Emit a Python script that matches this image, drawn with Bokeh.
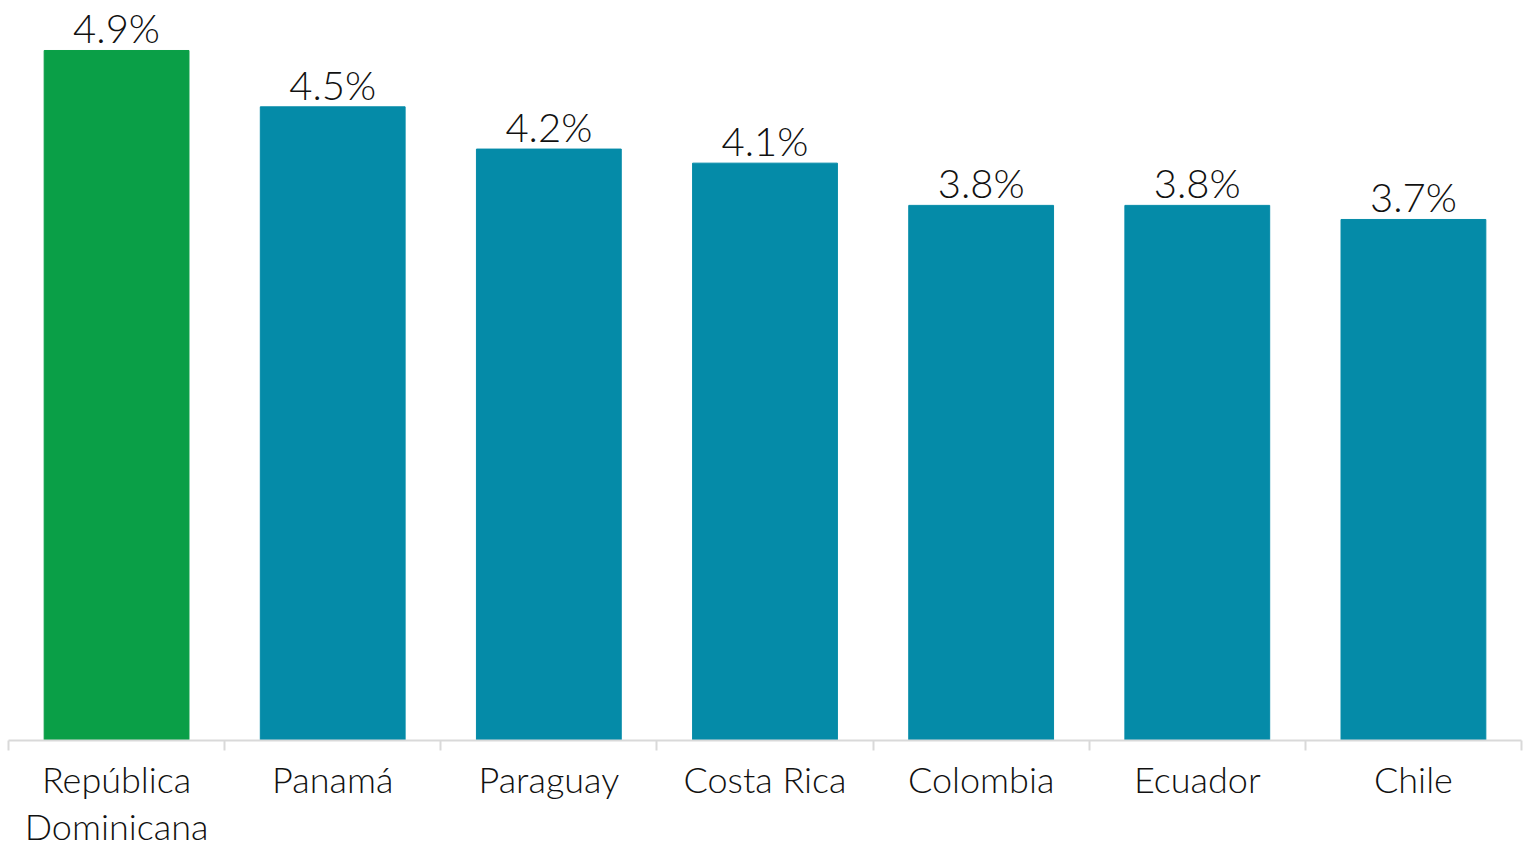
from bokeh.plotting import figure
from bokeh.models import ColumnDataSource, Range1d, FixedTicker
from bokeh.core.properties import value
from bokeh.embed import file_html
from bokeh.resources import INLINE

countries = ["República\nDominicana", "Panamá", "Paraguay", "Costa Rica", "Colombia", "Ecuador", "Chile"]
rates = [4.9, 4.5, 4.2, 4.1, 3.8, 3.8, 3.7]
labels = ["4.9%", "4.5%", "4.2%", "4.1%", "3.8%", "3.8%", "3.7%"]
colors = ["#0a9f47", "#058ba8", "#058ba8", "#058ba8", "#058ba8", "#058ba8", "#058ba8"]

xs = [i + 0.5 for i in range(len(countries))]
src = ColumnDataSource(dict(x=xs, top=rates, lab=labels, color=colors))

FONT = "Lato Light, Lato"
p = figure(width=1528, height=850, output_backend="svg", toolbar_location=None,
           x_range=Range1d(0, len(countries)), y_range=Range1d(0, 5.255),
           min_border_left=8, min_border_right=7, min_border_top=0, min_border_bottom=0)
p.outline_line_color = None
p.background_fill_color = "white"
p.border_fill_color = "white"
p.grid.visible = False
p.yaxis.visible = False

p.vbar(x="x", top="top", bottom=0, width=0.67, color="color", source=src)
p.text(x="x", y="top", text="lab", source=src, text_align="center", text_baseline="alphabetic",
       y_offset=-22, text_font=value(FONT), text_font_size="40px", text_color="#111111")

ax = p.xaxis[0]
ax.ticker = FixedTicker(ticks=xs, minor_ticks=list(range(len(countries) + 1)))
ax.major_label_overrides = {x: c for x, c in zip(xs, countries)}
ax.major_tick_line_color = None
ax.major_tick_out = 0
ax.major_tick_in = 0
ax.minor_tick_line_color = "#d9d9d9"
ax.minor_tick_line_width = 2
ax.minor_tick_out = 10
ax.minor_tick_in = 0
ax.axis_line_color = "#d9d9d9"
ax.axis_line_width = 2
ax.major_label_text_font = FONT
ax.major_label_text_font_size = "36px"
ax.major_label_text_line_height = 1.07
ax.major_label_text_color = "#111111"
ax.major_label_standoff = 6
ax.major_label_orientation = "horizontal"

open("out.html", "w").write(file_html(p, INLINE))
